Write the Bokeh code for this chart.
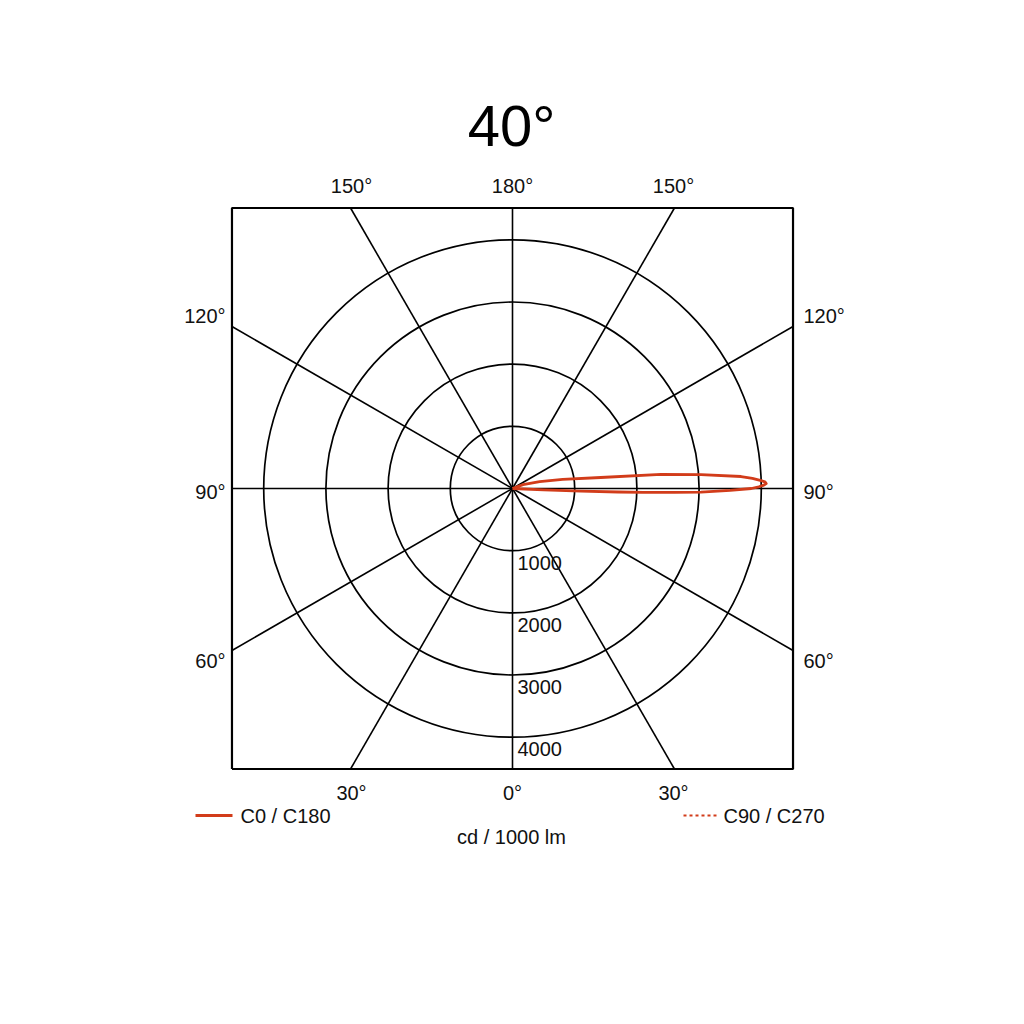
import numpy as np
from bokeh.plotting import figure
from bokeh.models import Range1d
from bokeh.core.properties import value
from bokeh.embed import file_html
from bokeh.resources import INLINE

# ---- data ----
title_text = "40°"
ring_values = [1000, 2000, 3000, 4000]
ring_labels = ["1000", "2000", "3000", "4000"]
spoke_angles = [0, 30, 60, 90, 120, 150, 180, 210, 240, 270, 300, 330]
top_labels = ["150°", "180°", "150°"]
side_labels = ["120°", "90°", "60°"]
bottom_labels = ["30°", "0°", "30°"]
# C0 / C180 luminous intensity curve (gamma in degrees from nadir, cd/1000 lm)
c0_gamma = [86.5, 87.3, 87.8, 88.1, 88.3, 88.6, 88.9, 89.5, 90.0, 90.4, 90.7, 91.1,
            91.5, 91.8, 92.4, 93.0, 94.2, 95.4, 97.1, 100.2, 104.0, 110.0, 120.0]
c0_intensity = [0, 500, 1100, 1700, 2100, 2600, 3030, 3500, 3840, 3960, 4030, 4080,
                4060, 4000, 3860, 3680, 3040, 2400, 1430, 820, 450, 180, 0]
legend_labels = ["C0 / C180", "C90 / C270"]
unit_label = "cd / 1000 lm"
frame_limit = 4510

RED = "#d23c1a"
FONT = value("Liberation Sans")

# ---- figure: page pixel -> data scale ----
W = H = 1008
K = 1000 / 62.2          # cd per pixel
CX, CY = 512, 488        # centre of diagram in plot pixels (from top-left)
p = figure(width=W, height=H, output_backend="svg", toolbar_location=None,
           x_range=Range1d(-CX * K, (W - CX) * K),
           y_range=Range1d(-(H - CY) * K, CY * K),
           min_border=0)
p.axis.visible = False
p.grid.visible = False
p.outline_line_color = None
p.background_fill_color = "white"
p.border_fill_color = "white"

def px(v):
    return v * K

# rings
p.circle(x=[0] * len(ring_values), y=[0] * len(ring_values), radius=ring_values,
         fill_color=None, line_color="black", line_width=1.7)

# spokes
xs, ys = [], []
for g in spoke_angles:
    r = np.radians(g)
    dx, dy = np.sin(r), -np.cos(r)
    t = frame_limit / max(abs(dx), abs(dy))
    xs.append([0, dx * t])
    ys.append([0, dy * t])
p.multi_line(xs=xs, ys=ys, line_color="black", line_width=1.6)

# frame
L = frame_limit
p.line(x=[-L, L, L, -L, -L], y=[-L, -L, L, L, -L], line_color="black", line_width=2.2)

# intensity curve (C0 on the right half)
g = np.radians(np.array(c0_gamma))
I = np.array(c0_intensity, dtype=float)
p.line(x=I * np.sin(g), y=-I * np.cos(g), line_color=RED, line_width=2.8,
       line_join="round")

TXT = "#111111"
FS = "20px"
# ring labels
p.text(x=[px(5)] * len(ring_values),
       y=[-(v + px(12)) for v in ring_values],
       text=ring_labels, text_font=FONT, text_font_size=FS,
       text_align="left", text_baseline="middle", text_color=TXT)

# angle labels
off = px(161)
p.text(x=[-off, 0, off], y=[px(303)] * 3, text=top_labels, text_font=FONT,
       text_font_size=FS, text_align="center", text_baseline="middle",
       text_color=TXT)
p.text(x=[-off, 0, off], y=[px(-304)] * 3, text=bottom_labels, text_font=FONT,
       text_font_size=FS, text_align="center", text_baseline="middle",
       text_color=TXT)
side_y = [px(173), px(-3), px(-172)]
p.text(x=[px(-287)] * 3, y=side_y, text=side_labels, text_font=FONT,
       text_font_size=FS, text_align="right", text_baseline="middle",
       text_color=TXT)
p.text(x=[px(291)] * 3, y=side_y, text=side_labels, text_font=FONT,
       text_font_size=FS, text_align="left", text_baseline="middle",
       text_color=TXT)

# title
p.text(x=[px(-1)], y=[px(363)], text=[title_text], text_font=FONT,
       text_font_size="58px", text_align="center", text_baseline="middle",
       text_color="black")

# legend
ly = px(-327)
p.line(x=[px(-317), px(-280)], y=[ly, ly], line_color=RED, line_width=2.8)
p.line(x=[px(171), px(204)], y=[ly, ly], line_color=RED, line_width=2.2,
       line_dash="3 3")
p.text(x=[px(-272), px(211)], y=[ly, ly], text=legend_labels, text_font=FONT,
       text_font_size=FS, text_align="left", text_baseline="middle",
       text_color=TXT)
p.text(x=[px(-1)], y=[px(-348)], text=[unit_label], text_font=FONT,
       text_font_size=FS, text_align="center", text_baseline="middle",
       text_color=TXT)

open("out.html", "w").write(file_html(p, INLINE))
